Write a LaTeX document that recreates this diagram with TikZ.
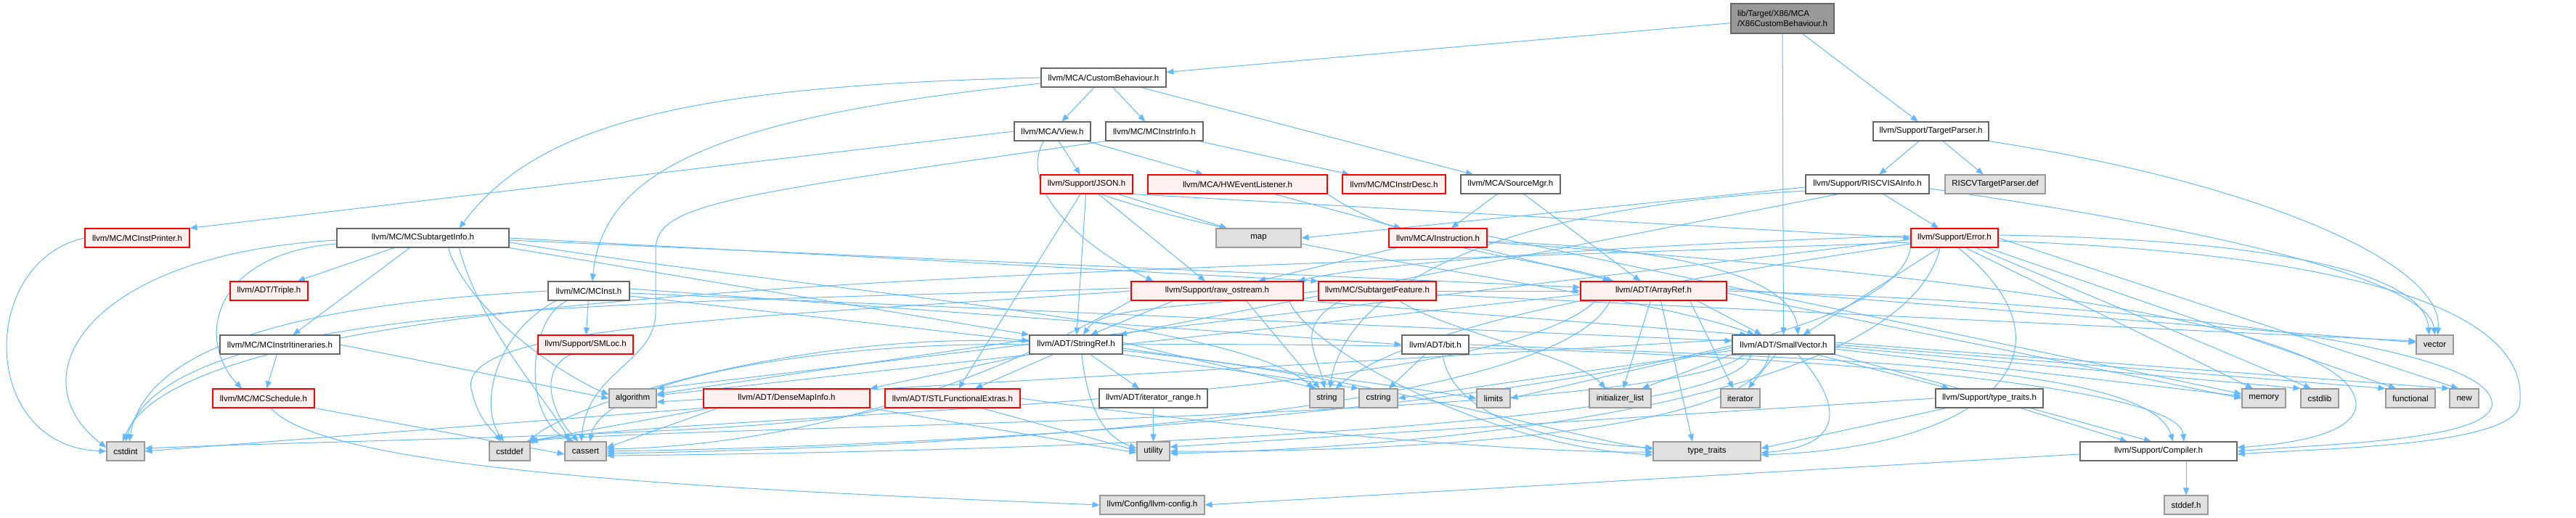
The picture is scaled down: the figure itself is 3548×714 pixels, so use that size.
\documentclass[tikz,border=0pt]{standalone}
\usepackage{fontspec}
\setmainfont{Liberation Sans}
\usetikzlibrary{arrows.meta}
\pgfdeclarelayer{bg}
\pgfsetlayers{bg,main}
\definecolor{ec}{HTML}{63B8FF}
\definecolor{gA}{HTML}{666666}
\definecolor{gB}{HTML}{999999}
\definecolor{gC}{HTML}{E0E0E0}
\definecolor{rf}{HTML}{FFF0F0}
\newcommand\nodefnt{\fontsize{11.5}{14}\selectfont}
\tikzset{
  nb/.style={draw=gA, fill=white, line width=1.1pt, minimum height=26pt, inner sep=0pt, font=\nodefnt},
  ng/.style={nb, draw=gB, fill=gC},
  nr/.style={nb, draw=red, fill=rf},
  e/.style={draw=ec, line width=1.0pt, -{Triangle[length=10pt,width=8pt]}},
}
\begin{document}
\begin{tikzpicture}[x=1pt,y=-1pt]
\useasboundingbox (0,0) rectangle (3548,714);
% row 0
\node[nb, draw=gA, fill=gB, minimum width=142pt, minimum height=41pt, align=left] (x86) at (2455,25.5) {lib/Target/X86/MCA\\/X86CustomBehaviour.h};
% row 1
\node[nb, minimum width=172pt] (cb) at (1520,107) {llvm/MCA/CustomBehaviour.h};
% row 2
\node[nb, minimum width=105pt] (view) at (1449.5,181) {llvm/MCA/View.h};
\node[nb, minimum width=134pt] (instrinfo) at (1590,181) {llvm/MC/MCInstrInfo.h};
\node[nb, minimum width=159pt] (tparser) at (2659.5,181) {llvm/Support/TargetParser.h};
% row 3
\node[nr, minimum width=127pt] (json) at (1496.5,254) {llvm/Support/JSON.h};
\node[nr, minimum width=247pt] (hwevent) at (1704.5,254) {llvm/MCA/HWEventListener.h};
\node[nr, minimum width=142pt] (instrdesc) at (1920,254) {llvm/MC/MCInstrDesc.h};
\node[nb, minimum width=137pt] (srcmgr) at (2080.5,254) {llvm/MCA/SourceMgr.h};
\node[nb, minimum width=170pt] (riscv) at (2572,254) {llvm/Support/RISCVISAInfo.h};
\node[ng, minimum width=138pt] (rvdef) at (2748,254) {RISCVTargetParser.def};
% row 4
\node[nr, minimum width=144pt] (instprinter) at (189,328) {llvm/MC/MCInstPrinter.h};
\node[nb, minimum width=237pt] (subtarget) at (582.5,328) {llvm/MC/MCSubtargetInfo.h};
\node[ng, minimum width=117pt] (map) at (1733.5,328) {map};
\node[nr, minimum width=135pt] (instruction) at (1980.5,328) {llvm/MCA/Instruction.h};
\node[nr, minimum width=120pt] (error) at (2692,328) {llvm/Support/Error.h};
% row 5
\node[nr, minimum width=107pt] (triple) at (370.5,401) {llvm/ADT/Triple.h};
\node[nb, minimum width=112pt] (mcinst) at (811,401) {llvm/MC/MCInst.h};
\node[nr, minimum width=237pt] (rawos) at (1676.5,401) {llvm/Support/raw\_ostream.h};
\node[nr, minimum width=162pt] (subfeat) at (1897,401) {llvm/MC/SubtargetFeature.h};
\node[nr, minimum width=201pt] (arrayref) at (2277.5,401) {llvm/ADT/ArrayRef.h};
% row 6
\node[nb, minimum width=165pt] (itin) at (385.5,475) {llvm/MC/MCInstrItineraries.h};
\node[nr, minimum width=131pt] (smloc) at (806.5,475) {llvm/Support/SMLoc.h};
\node[nb, minimum width=128pt] (stringref) at (1482,475) {llvm/ADT/StringRef.h};
\node[nb, minimum width=92pt] (bit) at (1977,475) {llvm/ADT/bit.h};
\node[nb, minimum width=141pt] (smallvec) at (2456.5,475) {llvm/ADT/SmallVector.h};
\node[ng, minimum width=51pt] (vector) at (3353.5,475) {vector};
% row 7
\node[nr, minimum width=140pt] (sched) at (363,549) {llvm/MC/MCSchedule.h};
\node[ng, minimum width=65pt] (algorithm) at (871.5,549) {algorithm};
\node[nr, minimum width=229pt] (densemap) at (1083.5,549) {llvm/ADT/DenseMapInfo.h};
\node[nr, minimum width=186pt] (stlfe) at (1312,549) {llvm/ADT/STLFunctionalExtras.h};
\node[nb, minimum width=149pt] (itrange) at (1588.5,549) {llvm/ADT/iterator\_range.h};
\node[ng, minimum width=47pt] (string) at (1827.5,549) {string};
\node[ng, minimum width=53pt] (cstring) at (1898.5,549) {cstring};
\node[ng, minimum width=46pt] (limits) at (2057,549) {limits};
\node[ng, minimum width=85pt] (initlist) at (2231.5,549) {initializer\_list};
\node[ng, minimum width=54pt] (iterator) at (2397,549) {iterator};
\node[nb, minimum width=148pt] (typetraitsh) at (2740,549) {llvm/Support/type\_traits.h};
\node[ng, minimum width=60pt] (memory) at (3118,549) {memory};
\node[ng, minimum width=52pt] (cstdlib) at (3195,549) {cstdlib};
\node[ng, minimum width=68pt] (functional) at (3320,549) {functional};
\node[ng, minimum width=40pt] (new) at (3394,549) {new};
% row 8
\node[ng, minimum width=52pt] (cstdint) at (173,622) {cstdint};
\node[ng, minimum width=56pt] (cstddef) at (702,622) {cstddef};
\node[ng, minimum width=57pt] (cassert) at (806.5,622) {cassert};
\node[ng, minimum width=45pt] (utility) at (1588.5,622) {utility};
\node[ng, minimum width=148pt] (typetraits) at (2351,622) {type\_traits};
\node[nb, minimum width=216pt] (compiler) at (2973,622) {llvm/Support/Compiler.h};
% row 9
\node[ng, minimum width=144pt] (llvmconfig) at (1587,696) {llvm/Config/llvm-config.h};
\node[ng, minimum width=60pt] (stddef) at (3011,696) {stddef.h};

\begin{pgfonlayer}{bg}
% root
\draw[e] (x86) -- (cb);
\draw[e] (x86) -- (smallvec);
\draw[e] (x86) -- (tparser);
% CustomBehaviour
\draw[e] (cb) -- (view);
\draw[e] (cb) -- (instrinfo);
\draw[e] (cb) -- (srcmgr);
\draw[e] (cb.west) .. controls (950,118) and (740,170) .. ([xshift=50pt]subtarget.north);
\draw[e] ([yshift=-8pt]cb.west) .. controls (1000,160) and (830,230) .. ([xshift=5pt]mcinst.north);
% View
\draw[e] (view.west) -- (instprinter.north east);
\draw[e] (view) -- (hwevent);
\draw[e] (view) -- (json);
\draw[e] ([xshift=-12pt]view.south) .. controls (1405,250) and (1470,330) .. ([xshift=-88pt]rawos.north);
% MCInstrInfo
\draw[e] (instrinfo) -- (instrdesc);
\draw[e] (instrinfo.south west) .. controls (1000,270) and (903,280) .. (903,345) -- (903,430) .. controls (903,500) and (810,510) .. ([xshift=-6pt]cassert.north);
% TargetParser
\draw[e] (tparser) -- (riscv);
\draw[e] (tparser) -- (rvdef);
\draw[e] (tparser.south east) .. controls (3100,250) and (3365,360) .. ([xshift=4pt]vector.north);
% RISCVISAInfo
\draw[e] (riscv) -- (error);
\draw[e] ([yshift=-6pt]riscv.east) .. controls (3080,320) and (3345,390) .. (vector.north);
\draw[e] ([yshift=-4pt]riscv.west) -- (map.east);
\draw[e] ([yshift=-9pt]riscv.west) .. controls (2000,290) and (1850,420) .. ([xshift=4pt]string.north);
\draw[e] ([xshift=-40pt]riscv.south) -- ([xshift=60pt]stringref.north);
% JSON
\draw[e] (json) -- (map);
\draw[e] (json) -- (rawos);
\draw[e] (json) -- (stringref);
\draw[e] (json) -- (stlfe);
\draw[e] (json.south east) -- (error.west);
\draw[e] ([xshift=20pt]json.south) .. controls (1750,350) and (2250,400) .. ([xshift=-40pt]smallvec.north);
% HWEventListener
\draw[e] (hwevent) -- (instruction);
\draw[e] (hwevent.south east) .. controls (1950,350) and (2150,360) .. ([xshift=-60pt]arrayref.north);
% SourceMgr
\draw[e] (srcmgr) -- (instruction);
\draw[e] (srcmgr) -- (arrayref);
% MCInstPrinter
\draw[e] (instprinter.west) .. controls (-30,360) and (-30,615) .. (cstdint.west);
% MCSubtargetInfo
\draw[e] (subtarget) -- (triple);
\draw[e] (subtarget) -- (itin);
\draw[e] ([yshift=-8pt]subtarget.west) .. controls (290,350) and (270,470) .. ([xshift=-30pt]sched.north);
\draw[e] ([yshift=-3pt]subtarget.west) .. controls (120,350) and (20,520) .. ([yshift=5pt]cstdint.west);
\draw[e] ([xshift=35pt]subtarget.south) .. controls (640,420) and (760,510) .. ([yshift=5pt]algorithm.west);
\draw[e] ([xshift=50pt]subtarget.south) .. controls (660,450) and (760,560) .. ([xshift=-22pt]cassert.north);
\draw[e] (subtarget.south east) -- (stringref.north west);
\draw[e] (subtarget.east) -- (subfeat.north west);
\draw[e] ([yshift=-3pt]subtarget.east) -- ([yshift=5pt]arrayref.west);
\draw[e] ([yshift=-6pt]subtarget.east) .. controls (1100,400) and (1700,440) .. ([xshift=-18pt]string.north);
% Instruction
\draw[e] (instruction) -- (arrayref);
\draw[e] ([yshift=-5pt]instruction.east) .. controls (2300,340) and (2470,380) .. ([xshift=20pt]smallvec.north);
\draw[e] (instruction) -- (rawos);
\draw[e] ([yshift=3pt]instruction.east) -- ([yshift=6pt]memory.west);
\draw[e] ([yshift=-6pt]instruction.east) .. controls (2900,390) and (3250,470) .. (3245,560) .. controls (3240,600) and (3150,612) .. ([yshift=5pt]compiler.east);
% Error
\draw[e] (error) -- ([xshift=27pt]smallvec.north);
\draw[e] ([yshift=3pt]error.west) .. controls (2300,335) and (1900,360) .. ([xshift=-8pt]rawos.north east);
\draw[e] ([yshift=-4pt]error.east) .. controls (3250,350) and (3490,430) .. (3470,560) .. controls (3455,615) and (3200,618) .. ([yshift=-4pt]compiler.east);
\draw[e] ([yshift=-2pt]error.west) -- (algorithm.north east);
\draw[e] (error.south west) .. controls (2600,530) and (1500,612) .. (cassert.east);
\draw[e] ([yshift=-6pt]error.west) .. controls (1400,380) and (260,390) .. ([xshift=-4pt]cstdint.north);
\draw[e] ([xshift=30pt]error.south) -- ([xshift=-12pt]cstdlib.north);
\draw[e] ([xshift=45pt]error.south) -- ([xshift=-20pt]functional.north);
\draw[e] ([xshift=15pt]error.south) -- ([xshift=-15pt]memory.north);
\draw[e] (error.east) -- ([xshift=-8pt]new.north);
\draw[e] ([yshift=-8pt]error.west) .. controls (2350,380) and (1950,440) .. ([xshift=12pt]string.north);
\draw[e] ([xshift=5pt]error.south) .. controls (2870,480) and (2750,615) .. ([yshift=-5pt]typetraits.east);
\draw[e] ([xshift=-20pt]error.south) .. controls (2620,560) and (1950,618) .. ([yshift=-3pt]utility.east);
\draw[e] ([yshift=4pt]error.east) .. controls (3150,330) and (3340,380) .. ([xshift=-8pt]vector.north);
% MCInst
\draw[e] (mcinst) -- (smloc);
\draw[e] ([xshift=-30pt]mcinst.south) .. controls (725,440) and (720,580) .. ([xshift=-16pt]cassert.north);
\draw[e] ([xshift=-45pt]mcinst.south) .. controls (680,460) and (660,560) .. ([xshift=-8pt]cstddef.north);
\draw[e] (mcinst.west) .. controls (400,420) and (200,480) .. ([xshift=5pt]cstdint.north);
\draw[e] ([yshift=-3pt]mcinst.east) -- ([yshift=5pt]smallvec.west);
\draw[e] ([yshift=-7pt]mcinst.east) -- ([yshift=5pt]stringref.west);
\draw[e] ([yshift=3pt]mcinst.east) -- (bit.west);
% SMLoc
\draw[e] ([xshift=-20pt]smloc.south) .. controls (740,510) and (760,570) .. ([xshift=-10pt]cassert.north);
% raw_ostream
\draw[e] ([xshift=-60pt]rawos.south) -- ([xshift=20pt]stringref.north);
\draw[e] (rawos.south west) .. controls (1300,560) and (1050,615) .. ([yshift=3pt]cassert.east);
\draw[e] (rawos.west) .. controls (1000,440) and (620,450) .. (650,540) .. controls (660,580) and (676,590) .. ([xshift=-12pt]cstddef.north);
\draw[e] ([yshift=4pt]rawos.west) .. controls (900,420) and (230,410) .. (cstdint.north);
\draw[e] ([xshift=40pt]rawos.south) -- ([xshift=-10pt]string.north);
\draw[e] ([xshift=-20pt]rawos.south east) .. controls (1800,480) and (2050,615) .. ([yshift=-5pt]typetraits.west);
\draw[e] (rawos.south east) -- ([xshift=-50pt]smallvec.north);
% SubtargetFeature
\draw[e] ([xshift=-50pt]subfeat.south) .. controls (1780,450) and (1815,490) .. ([xshift=-3pt]string.north);
\draw[e] (subfeat.west) .. controls (1650,425) and (1520,420) .. ([xshift=10pt]stringref.north);
\draw[e] (subfeat) -- (arrayref);
\draw[e] ([xshift=30pt]subfeat.south) .. controls (2000,460) and (2170,490) .. ([xshift=-20pt]initlist.north);
\draw[e] ([yshift=-5pt]subfeat.east) -- ([yshift=5pt]vector.west);
% ArrayRef
\draw[e] ([xshift=60pt]arrayref.south) -- ([xshift=-30pt]smallvec.north);
\draw[e] (arrayref) -- (initlist);
\draw[e] ([xshift=50pt]arrayref.south) -- ([xshift=-10pt]iterator.north);
\draw[e] ([xshift=10pt]arrayref.south) -- ([xshift=-20pt]typetraits.north);
\draw[e] ([xshift=-60pt]arrayref.south) .. controls (2150,560) and (1400,616) .. ([yshift=-3pt]cassert.east);
\draw[e] ([xshift=-80pt]arrayref.south) .. controls (2050,560) and (950,570) .. (cstddef.north east);
\draw[e] ([yshift=-5pt]arrayref.west) -- ([yshift=4pt]algorithm.east);
\draw[e] ([yshift=-3pt]arrayref.east) -- (memory.west);
\draw[e] ([yshift=3pt]arrayref.east) -- ([yshift=3pt]vector.west);
\draw[e] (arrayref.east) .. controls (3000,420) and (3445,480) .. (3432,560) .. controls (3420,608) and (3200,612) .. (compiler.east);
% StringRef
\draw[e] (stringref.south west) -- (densemap.north east);
\draw[e] (stringref) -- (stlfe);
\draw[e] (stringref) -- (itrange);
\draw[e] ([xshift=8pt]stringref.south) .. controls (1500,580) and (1530,605) .. ([yshift=4pt]utility.west);
\draw[e] (stringref.west) .. controls (1150,470) and (830,520) .. ([xshift=6pt]cassert.north);
\draw[e] ([yshift=4pt]stringref.west) .. controls (1100,455) and (780,560) .. ([xshift=-2pt]cstddef.north east);
\draw[e] ([yshift=7pt]stringref.west) -- ([yshift=6pt]algorithm.east);
\draw[e] (stringref.south east) -- (cstring.north west);
\draw[e] ([yshift=3pt]stringref.east) -- ([xshift=-14pt]string.north);
\draw[e] ([yshift=-5pt]stringref.east) .. controls (1750,510) and (1950,535) .. (limits.west);
\draw[e] ([yshift=-8pt]stringref.east) .. controls (1900,520) and (2150,600) .. ([yshift=3pt]typetraits.west);
\draw[e] (stringref.east) .. controls (2300,470) and (3000,520) .. ([xshift=35pt]compiler.north);
% bit
\draw[e] (bit) -- (cstring);
\draw[e] ([xshift=10pt]bit.south) .. controls (2000,580) and (2150,612) .. ([yshift=5pt]typetraits.west);
\draw[e] (bit.east) .. controls (2500,495) and (2960,500) .. ([xshift=20pt]compiler.north);
% SmallVector
\draw[e] ([xshift=45pt]smallvec.south) -- ([xshift=-55pt]typetraitsh.north);
\draw[e] (smallvec) -- (iterator);
\draw[e] (smallvec.south east) -- ([xshift=-10pt]compiler.north);
\draw[e] ([yshift=7pt]smallvec.west) -- ([yshift=-5pt]algorithm.east);
\draw[e] ([xshift=-45pt]smallvec.south) .. controls (2400,585) and (1500,622) .. ([yshift=-6pt]cassert.east);
\draw[e] ([xshift=-55pt]smallvec.south) .. controls (2320,580) and (950,585) .. ([xshift=-6pt]cstddef.north east);
\draw[e] ([yshift=-6pt]smallvec.east) -- ([yshift=3pt]memory.west);
\draw[e] ([yshift=-3pt]smallvec.east) -- (cstdlib.north west);
\draw[e] (smallvec.east) -- (functional.north west);
\draw[e] ([yshift=3pt]smallvec.east) -- (new.north west);
\draw[e] ([yshift=-8pt]smallvec.west) -- (cstring.east);
\draw[e] ([yshift=-4pt]smallvec.west) -- (limits.east);
\draw[e] (smallvec.south west) -- ([xshift=30pt]initlist.north);
\draw[e] ([xshift=20pt]smallvec.south) .. controls (2540,560) and (2540,615) .. ([yshift=-2pt]typetraits.east);
\draw[e] ([xshift=-20pt]smallvec.south) .. controls (2420,600) and (1900,624) .. (utility.east);
% DenseMapInfo
\draw[e] ([xshift=-95pt]densemap.south) -- ([yshift=5pt]cassert.east);
\draw[e] ([xshift=-105pt]densemap.south) -- ([xshift=-4pt]cstddef.north east);
\draw[e] (densemap.south west) -- (cstdint.east);
\draw[e] (densemap.south east) -- ([yshift=-2pt]utility.west);
% STLFunctionalExtras
\draw[e] (stlfe.south west) .. controls (1100,600) and (500,605) .. ([yshift=4pt]cstdint.east);
\draw[e] ([xshift=40pt]stlfe.south) -- ([yshift=1pt]utility.west);
\draw[e] (stlfe.east) .. controls (1700,590) and (2100,625) .. ([yshift=-1pt]typetraits.west);
% MCInstrItineraries
\draw[e] (itin) -- (sched);
\draw[e] (itin.east) -- (algorithm.west);
% MCSchedule
\draw[e] (sched.south east) -- ([yshift=-4pt]cassert.west);
\draw[e] ([xshift=10pt]sched.south) .. controls (450,650) and (1000,675) .. (llvmconfig.west);
% iterator_range, type_traits.h
\draw[e] (itrange) -- (utility);
\draw[e] (typetraitsh) -- (compiler);
\draw[e] ([xshift=15pt]typetraitsh.south west) -- ([yshift=4pt]typetraits.east);
\draw[e] (typetraitsh.west) -- ([yshift=6pt]utility.east);
% Compiler
\draw[e] ([yshift=-4pt]compiler.west) -- (llvmconfig.east);
\draw[e] ([xshift=38pt]compiler.south) -- (stddef.north);
\end{pgfonlayer}
\end{tikzpicture}
\end{document}
